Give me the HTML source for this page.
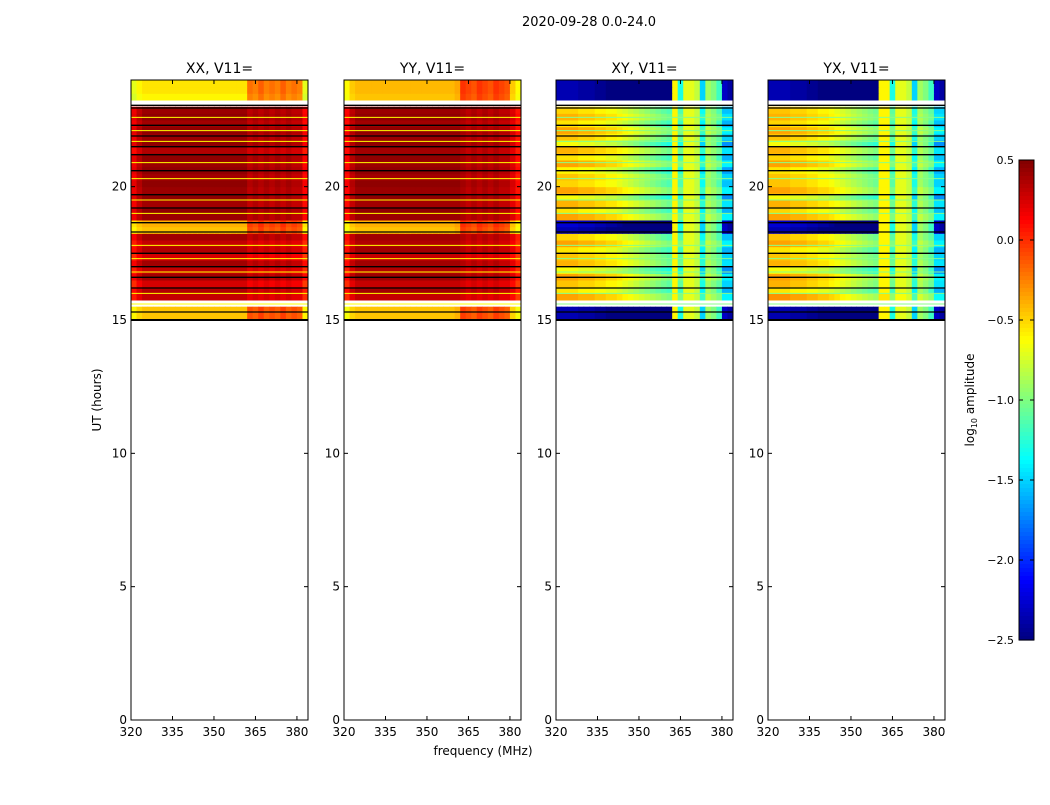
<!DOCTYPE html>
<html><head><meta charset="utf-8"><style>
body{margin:0;background:#fff;}
svg text{font-family:"DejaVu Sans","Liberation Sans",sans-serif;}
</style></head><body>
<svg id="chart" width="1050" height="800" xmlns="http://www.w3.org/2000/svg">
<text x="589" y="26" font-size="13" text-anchor="middle">2020-09-28 0.0-24.0</text>
<text x="483" y="755" font-size="12" text-anchor="middle">frequency (MHz)</text>
<text transform="translate(101,400) rotate(-90)" font-size="12" text-anchor="middle">UT (hours)</text>
<g id="panels"></g>
<g id="cbar"></g>
</svg>
<script>
const panelNames = ["XX, V11=","YY, V11=","XY, V11=","YX, V11="];
const xTicks = [320,335,350,365,380];
const yTicks = [0,5,10,15,20];
const cbarTicks = [0.5,0.0,-0.5,-1.0,-1.5,-2.0,-2.5];
// rows: 0.25 h steps from 15.0 to 23.75 (null = no data)
const rowsXX = [-0.45,-0.45,null,0.3,0.35,0.25,0.4,0.3,0.4,0.25,0.35,0.3,0.4,-0.45,-0.4,0.42,0.45,0.4,0.45,0.42,0.45,0.4,0.45,0.42,0.45,0.35,0.45,0.42,0.45,0.4,0.45,0.42,null,-0.6,-0.55,-0.55];
const rowsYY = [-0.45,-0.45,null,0.3,0.4,0.3,0.42,0.35,0.4,0.3,0.4,0.35,0.4,-0.45,-0.4,0.42,0.45,0.4,0.45,0.42,0.45,0.4,0.45,0.42,0.45,0.4,0.45,0.42,0.45,0.4,0.45,0.42,null,-0.45,-0.42,-0.42];
const rowsXY = [-2.4,-2.4,null,-0.4,-0.6,-0.5,-0.4,-0.7,-0.45,-0.5,-0.6,-0.4,-0.55,-2.4,-2.3,-0.4,-0.6,-0.45,-0.7,-0.4,-0.55,-0.5,-0.65,-0.4,-0.6,-0.45,-0.7,-0.5,-0.4,-0.6,-0.45,-0.55,null,-2.4,-2.4,-2.4];
const rowsYX = [-2.4,-2.4,null,-0.35,-0.6,-0.45,-0.4,-0.7,-0.45,-0.5,-0.6,-0.4,-0.5,-2.4,-2.3,-0.4,-0.55,-0.45,-0.7,-0.4,-0.5,-0.5,-0.6,-0.4,-0.55,-0.45,-0.7,-0.5,-0.4,-0.55,-0.45,-0.5,null,-2.4,-2.4,-2.4];
// columns: 2 MHz steps from 320 to 382
const lightXX = [-0.15,-0.05,0,0,0,0,0,0,0,0,0,0,0,0,0,0,0,0,0,0,0,0.35,0.3,0.4,0.3,0.35,0.3,0.4,0.3,0.35,0.3,-0.15];
const darkXX  = [-0.25,-0.1,0,0,0,0,0,0,0,0,0,0,0,0,0,0,0,0,0,0,0,-0.1,-0.05,-0.1,-0.05,-0.1,-0.05,-0.1,-0.05,-0.1,-0.1,-0.3];
const lightYY = [-0.2,-0.05,0,0,0,0,0,0,0,0,0,0,0,0,0,0,0,0,0,0,0.05,0.4,0.35,0.3,0.4,0.35,0.3,0.4,0.35,0.3,-0.05,-0.2];
const darkYY  = [-0.3,-0.1,0,0,0,0,0,0,0,0,0,0,0,0,0,0,0,0,0,0,0,-0.05,-0.1,-0.05,-0.1,-0.05,-0.1,-0.05,-0.1,-0.1,-0.2,-0.35];
const tiltXY = [0.05,0.05,0.05,0.05,0,0,0,-0.05,-0.05,-0.1,-0.1,-0.15,-0.2,-0.25,-0.3,-0.35,-0.4,-0.45,-0.5,-0.55,-0.6,-0.2,-0.6,-0.3,-0.3,-0.4,-0.8,-0.4,-0.5,-0.6,-1.0,-1.0];
const floorXY = [-3,-3,-3,-3,-3,-3,-3,-3,-3,-3,-3,-3,-3,-3,-3,-3,-3,-3,-3,-3,-3,-0.6,-1.3,-0.7,-0.7,-0.8,-1.5,-0.9,-1.0,-1.2,-2.3,-2.4];
const tiltYX = [0.05,0.05,0.05,0.05,0,0,0,-0.05,-0.05,-0.1,-0.1,-0.15,-0.2,-0.25,-0.3,-0.35,-0.4,-0.45,-0.5,-0.55,-0.2,-0.2,-0.6,-0.3,-0.3,-0.4,-0.8,-0.4,-0.5,-0.6,-1.0,-1.0];
const floorYX = [-3,-3,-3,-3,-3,-3,-3,-3,-3,-3,-3,-3,-3,-3,-3,-3,-3,-3,-3,-3,-0.6,-0.6,-1.3,-0.7,-0.7,-0.8,-1.5,-0.9,-1.0,-1.2,-2.3,-2.4];
const blackLines = [15.0,15.3,16.2,16.6,17.0,17.5,18.3,18.65,19.2,19.7,20.6,21.2,21.5,21.9,22.3,22.95,23.05];
const yellowLines = [15.6,16.0,16.8,17.3,17.8,19.0,19.5,20.3,20.9,21.7,22.1,22.6];

const lefts=[131,344,556,768], topY=80, botY=720, W=177;
const yS = h => botY - h*(botY-topY)/24;
const xS = (f,L) => L + (f-320)*W/64;
function jet(v){
  let t=(v+2.5)/3; t=Math.max(0,Math.min(1,t));
  const c=x=>Math.round(255*Math.max(0,Math.min(1,x)));
  return `rgb(${c(1.5-Math.abs(4*t-3))},${c(1.5-Math.abs(4*t-2))},${c(1.5-Math.abs(4*t-1))})`;
}
const NS="http://www.w3.org/2000/svg";
function mk(tag,attrs,parent){const e=document.createElementNS(NS,tag);for(const k in attrs)e.setAttribute(k,attrs[k]);parent.appendChild(e);return e;}
const panels=document.getElementById('panels');
const rowSets=[rowsXX,rowsYY,rowsXY,rowsYX];
const nCols=32;
for(let p=0;p<4;p++){
  const L=lefts[p];
  const g=mk('g',{},panels);
  
  
  const rows=rowSets[p];
  for(let r=0;r<rows.length;r++){
    if(rows[r]===null) continue;
    const h0=15+r*0.25, h1=h0+0.25;
    for(let c=0;c<nCols;c++){
      const f0=320+c*2, f1=(c==nCols-1)?384:f0+2;
      const rv=rows[r];
      let v;
      if(p==0) v=rv+(rv>0?darkXX[c]:lightXX[c]);
      else if(p==1) v=rv+(rv>0?darkYY[c]:lightYY[c]);
      else if(p==2) v=Math.max(rv+tiltXY[c],floorXY[c]);
      else v=Math.max(rv+tiltYX[c],floorYX[c]);
      const cell=mk('rect',{x:xS(f0,L),y:yS(h1),width:xS(f1,L)-xS(f0,L)+0.5,height:yS(h0)-yS(h1)+0.5,fill:jet(Math.min(0.5,v))},g);
      
      
    }
  }
  for(const h of yellowLines){
    const ln=mk('line',{x1:L,x2:L+W,y1:yS(h),y2:yS(h),stroke:p<2?'#ff0':'#8f8','stroke-width':1},g);
    
    
  }
  for(const h of blackLines){
    const ln=mk('line',{x1:L,x2:L+W,y1:yS(h),y2:yS(h),stroke:'#000','stroke-width':h==15?2:1.3},g);
    
    
  }
  const fr=mk('rect',{x:L,y:topY,width:W,height:botY-topY,fill:'none',stroke:'#000','stroke-width':1},g);
  
  
  const tt=mk('text',{x:L+W/2,y:73,'font-size':14,'text-anchor':'middle'},g);
  tt.textContent=panelNames[p];
  
  
  for(const f of xTicks){
    const x=xS(f,L);
    mk('line',{x1:x,x2:x,y1:botY,y2:botY-4,stroke:'#000'},g);
    mk('line',{x1:x,x2:x,y1:topY,y2:topY+4,stroke:'#000'},g);
    const t=mk('text',{x:x,y:botY+16,'font-size':12,'text-anchor':'middle'},g);
    t.textContent=f;
    
    
  }
  for(const h of yTicks){
    const y=yS(h);
    mk('line',{x1:L,x2:L+4,y1:y,y2:y,stroke:'#000'},g);
    mk('line',{x1:L+W,x2:L+W-4,y1:y,y2:y,stroke:'#000'},g);
    const t=mk('text',{x:L-4,y:y+4,'font-size':12,'text-anchor':'end'},g);
    t.textContent=h;
    
    
  }
}
// colorbar
const cb=document.getElementById('cbar');
const cx=1019,cw=15,ct=160,cbh=480;
const cy=v=>ct+(0.5-v)*cbh/3;
for(let i=0;i<120;i++){
  const v=0.5-(i+0.5)*3/120;
  mk('rect',{x:cx,y:ct+i*cbh/120,width:cw,height:cbh/120+0.6,fill:jet(v)},cb);
}
mk('rect',{x:cx,y:ct,width:cw,height:cbh,fill:'none',stroke:'#000'},cb);
for(const v of cbarTicks){
  const y=cy(v);
  mk('line',{x1:cx,x2:cx+4,y1:y,y2:y,stroke:'#000'},cb);
  mk('line',{x1:cx+cw-4,x2:cx+cw,y1:y,y2:y,stroke:'#000'},cb);
  const t=mk('text',{x:cx-5,y:y+4,'font-size':11,'text-anchor':'end'},cb);
  t.textContent=v.toFixed(1).replace('-','\u2212');
  
  
}
const cl=mk('text',{transform:'translate(974,400) rotate(-90)','font-size':12,'text-anchor':'middle'},cb);
cl.innerHTML='log<tspan font-size="8" dy="3">10</tspan><tspan dy="-3"> amplitude</tspan>';


</script>
</body></html>
